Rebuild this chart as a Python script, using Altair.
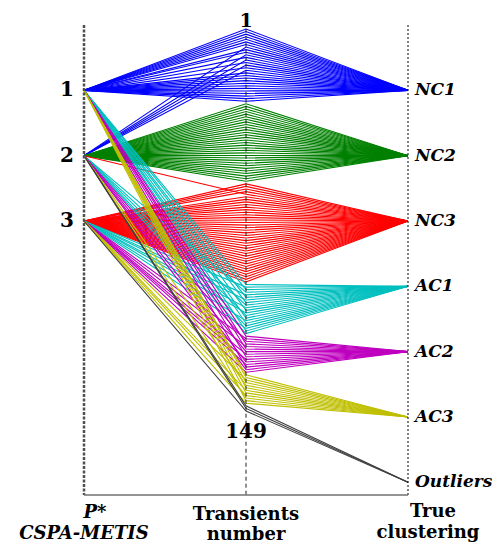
import altair as alt
import pandas as pd

# ---------------- data ----------------
clusters = ["1", "2", "3"]                       # P* (CSPA-METIS) clusters
true_classes = ["NC1", "NC2", "NC3", "AC1", "AC2", "AC3", "Outliers"]
class_colors = ["#0000FF", "#008000", "#FF0000", "#00BFBF", "#BF00BF", "#BFBF00", "#404040"]
n_transients = 149

# P* cluster of every transient, in transient-number order, grouped by true class
p_NC1 = [1, 1, 1, 1, 1, 1, 1, 2, 1, 1, 2, 1, 2, 1, 2, 1, 2, 1, 1, 1, 1, 1, 1, 1, 1, 1, 1, 1, 1]
p_NC2 = [2] * 31
p_NC3 = [3, 3, 3, 3, 2] + [3] * 34
p_AC1 = [1, 3, 1, 2, 3, 1, 3, 1, 2, 3, 1, 3, 2, 1, 3, 1, 2, 3, 1, 2]
p_AC2 = [1, 3, 2, 1, 3, 1, 2, 3, 1, 3, 2, 3, 1, 2, 3]
p_AC3 = [1, 1, 3, 1, 2, 1, 3, 1, 3, 2, 1, 3]
p_OUT = [2, 2, 3]
groups = [p_NC1, p_NC2, p_NC3, p_AC1, p_AC2, p_AC3, p_OUT]

axis_titles = [["P*", "CSPA-METIS"], ["Transients", "number"], ["True", "clustering"]]

# ---------------- scales (parallel-coordinate axes) ----------------
n_slots = len(true_classes)
Y_MAX = 7.194                       # bottom of the axes in category-slot units
RANK_TOP, RANK_BOT = 0.061, 5.908   # where transient 1 and transient 149 sit

def rank_pos(r):
    return RANK_TOP + (r - 1) * (RANK_BOT - RANK_TOP) / (n_transients - 1)

rows = []
tid = 0
for ci, grp in enumerate(groups):
    for p in grp:
        tid += 1
        rows.append(dict(id=tid, ax=0, y=p, cls=true_classes[ci]))
        rows.append(dict(id=tid, ax=1, y=rank_pos(tid), cls=true_classes[ci]))
        rows.append(dict(id=tid, ax=2, y=ci + 1, cls=true_classes[ci]))
df = pd.DataFrame(rows)

W, H = 324, 470
xs = alt.Scale(domain=[0, 2])
ys = alt.Scale(domain=[0, Y_MAX], reverse=True)
X = lambda f: alt.X(f, type="quantitative", scale=xs, axis=None)
Y = lambda f: alt.Y(f, type="quantitative", scale=ys, axis=None)

lines = alt.Chart(df).mark_line(strokeWidth=1.1).encode(
    x=X("ax"), y=Y("y"), detail="id:N", order="ax:Q",
    color=alt.Color("cls:N", scale=alt.Scale(domain=true_classes, range=class_colors), legend=None),
)

def vrule(xv, ytop, **kw):
    d = pd.DataFrame({"x": [xv], "y": [ytop], "y2": [Y_MAX]})
    return alt.Chart(d).mark_rule(**kw).encode(x=X("x"), y=Y("y"), y2="y2:Q")

left_axis = vrule(0, 0, color="#505050", strokeWidth=2.5, strokeDash=[3, 1.5])
mid_axis = vrule(1, -0.05, color="#202020", strokeWidth=1, strokeDash=[4, 3])
right_axis = vrule(2, 0, color="#000000", strokeWidth=1, strokeDash=[2, 2])
bottom_line = alt.Chart(pd.DataFrame({"x": [0], "x2": [2], "y": [Y_MAX]})).mark_rule(
    color="#707070", strokeWidth=1.5).encode(x=X("x"), x2="x2:Q", y=Y("y"))

SERIF = "DejaVu Serif"
left_df = pd.DataFrame({"t": clusters, "x": [0] * 3, "y": [1, 2, 3]})
left_lbl = alt.Chart(left_df).mark_text(font=SERIF, fontSize=20, fontWeight="bold", dx=-17,
                                        baseline="middle", color="black").encode(
    x=X("x"), y=Y("y"), text="t:N")

right_df = pd.DataFrame({"t": true_classes, "x": [2] * n_slots, "y": list(range(1, n_slots + 1))})
right_lbl = alt.Chart(right_df).mark_text(font=SERIF, fontSize=17, fontWeight="bold", fontStyle="italic",
                                          dx=7, align="left", baseline="middle", color="black").encode(
    x=X("x"), y=Y("y"), text="t:N")

top_lbl = alt.Chart(pd.DataFrame({"t": ["1"], "x": [1], "y": [rank_pos(1)]})).mark_text(
    font=SERIF, fontSize=19, fontWeight="bold", dy=-8, baseline="middle", color="black").encode(
    x=X("x"), y=Y("y"), text="t:N")
bot_lbl = alt.Chart(pd.DataFrame({"t": [str(n_transients)], "x": [1], "y": [rank_pos(n_transients)]})).mark_text(
    font=SERIF, fontSize=20, fontWeight="bold", dy=21, baseline="middle", color="black").encode(
    x=X("x"), y=Y("y"), text="t:N")

title_layers = []
title_specs = [  # (axis index, italic, dx line1, dx line2, dy line1, dy line2)
    (0, True, 11, 0, 18, 39),
    (1, False, 0, 0, 20, 40),
    (2, False, 25, 20, 17, 38),
]
for (ai, it, dx1, dx2, dy1, dy2) in title_specs:
    for line, dx, dy in ((0, dx1, dy1), (1, dx2, dy2)):
        d = pd.DataFrame({"t": [axis_titles[ai][line]], "x": [ai], "y": [Y_MAX]})
        title_layers.append(
            alt.Chart(d).mark_text(font=SERIF, fontSize=18, fontWeight="bold",
                                   fontStyle="italic" if it else "normal",
                                   dx=dx, dy=dy, baseline="middle", color="black").encode(
                x=X("x"), y=Y("y"), text="t:N"))

chart = alt.layer(lines, left_axis, mid_axis, right_axis, bottom_line,
                  left_lbl, right_lbl, top_lbl, bot_lbl, *title_layers).properties(
    width=W, height=H,
    autosize=alt.AutoSizeParams(type="none"),
    padding={"left": 76, "top": 17, "right": 84, "bottom": 51},
).configure_view(stroke=None)

chart.save("out.html", embed_options={"renderer": "svg", "actions": False})
